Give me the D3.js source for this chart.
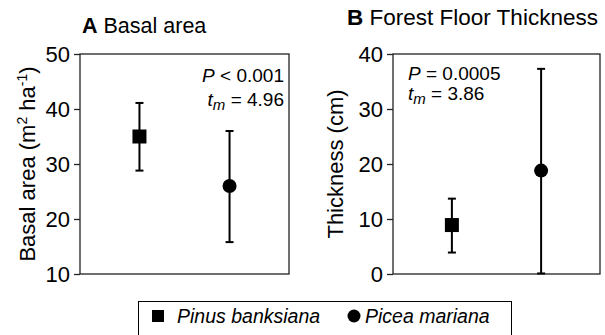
<!DOCTYPE html>
<html>
<head>
<meta charset="utf-8">
<script src="https://cdn.jsdelivr.net/npm/d3@7"></script>
<style>
  body { margin: 0; background: #fff; }
  text { font-family: "Liberation Sans", Arial, sans-serif; fill: #000; }
</style>
</head>
<body>
<div id="chart"></div>
<script>
// data
var species = ["Pinus banksiana", "Picea mariana"];
var basalMean = [35, 26];
var basalLow = [28.8, 15.8];
var basalHigh = [41.1, 36];
var thickMean = [8.9, 18.8];
var thickLow = [3.9, 0.1];
var thickHigh = [13.7, 37.3];
var basalTicks = [10, 20, 30, 40, 50];
var thickTicks = [0, 10, 20, 30, 40];

var width = 605, height = 335;

var svg = d3.select("#chart").append("svg")
  .attr("width", width)
  .attr("height", height);

function panel(opts) {
  var w = opts.w, h = 220;
  var g = svg.append("g").attr("transform", "translate(" + opts.left + ",54)");

  var x = d3.scalePoint().domain(species).range([0, w]).padding(0.66);
  var y = d3.scaleLinear().domain(opts.domain).range([h, 0]);

  var yAxis = g.append("g")
    .call(d3.axisLeft(y).tickValues(opts.ticks).tickSize(6).tickPadding(4));
  yAxis.select(".domain").remove();
  yAxis.selectAll("line").attr("stroke", "#222").attr("stroke-width", 1.3);
  yAxis.selectAll("text")
    .style("font-family", "'Liberation Sans', Arial, sans-serif")
    .style("font-size", "22px")
    .attr("fill", "#000");

  // frame
  g.append("rect")
    .attr("width", w).attr("height", h)
    .attr("fill", "none")
    .attr("stroke", "#222")
    .attr("stroke-width", 1.3);

  var pts = species.map(function(s, i) {
    return { name: s, mean: opts.mean[i], lo: opts.lo[i], hi: opts.hi[i], i: i };
  });

  var bars = g.selectAll(".err").data(pts).enter().append("g").attr("class", "err");
  bars.append("line")
    .attr("x1", function(d) { return x(d.name); })
    .attr("x2", function(d) { return x(d.name); })
    .attr("y1", function(d) { return y(d.lo); })
    .attr("y2", function(d) { return y(d.hi); })
    .attr("stroke", "#000").attr("stroke-width", 2);
  ["lo", "hi"].forEach(function(k) {
    bars.append("line")
      .attr("x1", function(d) { return x(d.name) - 4; })
      .attr("x2", function(d) { return x(d.name) + 4; })
      .attr("y1", function(d) { return y(d[k]); })
      .attr("y2", function(d) { return y(d[k]); })
      .attr("stroke", "#000").attr("stroke-width", 2);
  });

  g.selectAll(".sq").data(pts.filter(function(d) { return d.i === 0; }))
    .enter().append("rect")
    .attr("x", function(d) { return x(d.name) - 7; })
    .attr("y", function(d) { return y(d.mean) - 7; })
    .attr("width", 14).attr("height", 14)
    .attr("fill", "#000");

  g.selectAll(".dot").data(pts.filter(function(d) { return d.i === 1; }))
    .enter().append("circle")
    .attr("cx", function(d) { return x(d.name); })
    .attr("cy", function(d) { return y(d.mean); })
    .attr("r", 7)
    .attr("fill", "#000");

  return g;
}

// panel A
panel({ left: 80, w: 209, domain: [10, 50], ticks: basalTicks,
  mean: basalMean, lo: basalLow, hi: basalHigh });

// panel B
panel({ left: 393, w: 207, domain: [0, 40], ticks: thickTicks,
  mean: thickMean, lo: thickLow, hi: thickHigh });

// titles
var tA = svg.append("text").attr("x", 82).attr("y", 33).style("font-size", "21.5px");
tA.append("tspan").attr("font-weight", "bold").text("A");
tA.append("tspan").text(" Basal area");

var tB = svg.append("text").attr("x", 347).attr("y", 25).style("font-size", "22.5px");
tB.append("tspan").attr("font-weight", "bold").text("B");
tB.append("tspan").text(" Forest Floor Thickness");

// y labels
var yl = svg.append("text")
  .attr("transform", "translate(35,164) rotate(-90)")
  .attr("text-anchor", "middle")
  .style("font-size", "22px");
yl.append("tspan").text("Basal area (m");
yl.append("tspan").attr("dy", -8).style("font-size", "14px").text("2");
yl.append("tspan").attr("dy", 8).text(" ha");
yl.append("tspan").attr("dy", -8).style("font-size", "14px").text("-1");
yl.append("tspan").attr("dy", 8).text(")");

svg.append("text")
  .attr("transform", "translate(343,164) rotate(-90)")
  .attr("text-anchor", "middle")
  .style("font-size", "22px")
  .text("Thickness (cm)");

// stats text
function stat(x, y, anchor, pLabel, tVal, y2) {
  var p = svg.append("text").attr("x", x).attr("y", y)
    .attr("text-anchor", anchor).style("font-size", "19px");
  p.append("tspan").attr("font-style", "italic").text("P");
  p.append("tspan").text(pLabel);
  var t = svg.append("text").attr("x", x).attr("y", y2)
    .attr("text-anchor", anchor).style("font-size", "19px");
  t.append("tspan").attr("font-style", "italic").text("t");
  t.append("tspan").attr("font-style", "italic").attr("dy", 4).style("font-size", "15px").text("m");
  t.append("tspan").attr("dy", -4).text(" = " + tVal);
}
stat(284, 82, "end", " < 0.001", "4.96", 106);
stat(408, 80, "start", " = 0.0005", "3.86", 100);

// legend
var leg = svg.append("g");
leg.append("rect")
  .attr("x", 138.5).attr("y", 301.5)
  .attr("width", 373).attr("height", 50)
  .attr("fill", "none").attr("stroke", "#000").attr("stroke-width", 1);
leg.append("rect").attr("x", 152).attr("y", 310).attr("width", 12).attr("height", 12).attr("fill", "#000");
leg.append("text").attr("x", 177).attr("y", 323).attr("font-style", "italic")
  .style("font-size", "19.5px").text(species[0]);
leg.append("circle").attr("cx", 354).attr("cy", 316).attr("r", 6.5).attr("fill", "#000");
leg.append("text").attr("x", 365).attr("y", 323).attr("font-style", "italic")
  .style("font-size", "19.5px").text(species[1]);
</script>
</body>
</html>
